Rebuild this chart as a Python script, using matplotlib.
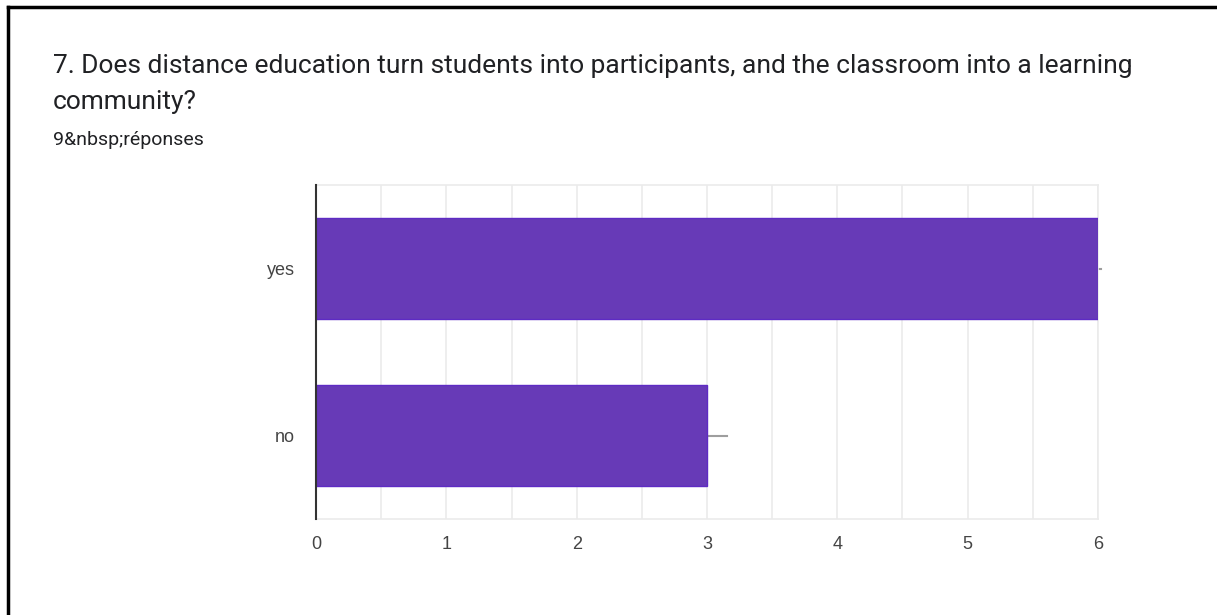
import matplotlib.pyplot as plt
from matplotlib.lines import Line2D

categories = ["yes", "no"]
counts = [6, 3]
x_ticks = [0, 1, 2, 3, 4, 5, 6]

title = "7. Does distance education turn students into participants, and the classroom into a learning\ncommunity?"
subtitle = "9&nbsp;réponses"

W, H = 1217, 615
fig = plt.figure(figsize=(W / 100, H / 100), dpi=100)
fig.patch.set_facecolor("white")

# page frame: left and top black rules
fig.add_artist(Line2D([8 / W, 8 / W], [0, 1 - 7 / H], color="black", lw=2.5))
fig.add_artist(Line2D([8 / W, 1], [1 - 7 / H, 1 - 7 / H], color="black", lw=2.5))

fig.text(53 / W, 1 - 109 / H, title, fontsize=19, family=["Roboto", "DejaVu Sans"],
         color="#202124", va="baseline", linespacing=1.62)
fig.text(53 / W, 1 - 145 / H, subtitle, fontsize=14, family=["Roboto", "DejaVu Sans"],
         color="#202124", va="baseline")

left, right, top, bottom = 316, 1098, 185, 519
ax = fig.add_axes([left / W, 1 - bottom / H, (right - left) / W, (bottom - top) / H])

ypos = list(range(len(categories)))
ax.barh(ypos, counts, height=0.61, color="#673ab7", edgecolor="#5e2bc4", linewidth=1, zorder=3)
ax.set_ylim(len(categories) - 0.5, -0.5)
ax.set_xlim(0, 6)

# small grey whisker marks at the bar ends
for y, c in zip(ypos, counts):
    ax.plot([c, c + 0.15 if c < 6 else c + 0.02], [y, y], color="#9e9e9e", lw=1.5, zorder=2,
            clip_on=False)

ax.set_xticks(x_ticks)
ax.set_xticks([t + 0.5 for t in x_ticks[:-1]], minor=True)
ax.grid(True, axis="x", which="both", color="#ebebeb", lw=1.2, zorder=0)
ax.tick_params(axis="both", which="both", length=0, colors="#444444", labelsize=13)
ax.tick_params(axis="x", pad=12)
ax.tick_params(axis="y", pad=15)
ax.set_yticks(ypos)
ax.set_yticklabels(categories)
for lab in ax.get_xticklabels() + ax.get_yticklabels():
    lab.set_family(["Arial", "Liberation Sans", "DejaVu Sans"])

for s in ["top", "right", "bottom"]:
    ax.spines[s].set_color("#ebebeb")
    ax.spines[s].set_linewidth(1.2)
ax.spines["left"].set_color("#333333")
ax.spines["left"].set_linewidth(1.5)
ax.spines["left"].set_zorder(5)

fig.savefig("out.png", dpi=100, facecolor="white")
